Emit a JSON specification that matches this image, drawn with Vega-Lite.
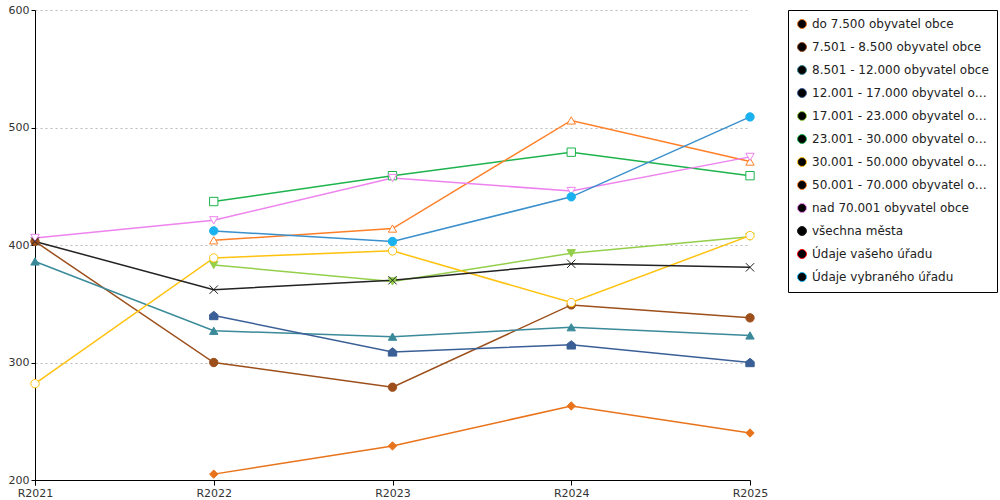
{
"$schema":"https://vega.github.io/schema/vega-lite/v6.json",
"width":715,"height":470,
"autosize":"none",
"padding":{"left":35,"top":10,"right":250,"bottom":20},
"config":{"font":"DejaVu Sans","view":{"stroke":null},"legend":{"title":null,"orient":"right","offset":35,"labelLimit":178,"labelFontSize":12,"labelColor":"#222","symbolSize":80,"rowPadding":9,"strokeColor":"#000","padding":8,"symbolStrokeWidth":1}},
"data":{"values":[
{"r":"R2022","s":"do 7.500 obyvatel obce","v":205},{"r":"R2023","s":"do 7.500 obyvatel obce","v":229},{"r":"R2024","s":"do 7.500 obyvatel obce","v":263},{"r":"R2025","s":"do 7.500 obyvatel obce","v":240},
{"r":"R2021","s":"7.501 - 8.500 obyvatel obce","v":403},{"r":"R2022","s":"7.501 - 8.500 obyvatel obce","v":300},{"r":"R2023","s":"7.501 - 8.500 obyvatel obce","v":279},{"r":"R2024","s":"7.501 - 8.500 obyvatel obce","v":349},{"r":"R2025","s":"7.501 - 8.500 obyvatel obce","v":338},
{"r":"R2021","s":"8.501 - 12.000 obyvatel obce","v":386},{"r":"R2022","s":"8.501 - 12.000 obyvatel obce","v":327},{"r":"R2023","s":"8.501 - 12.000 obyvatel obce","v":322},{"r":"R2024","s":"8.501 - 12.000 obyvatel obce","v":330},{"r":"R2025","s":"8.501 - 12.000 obyvatel obce","v":323},
{"r":"R2022","s":"12.001 - 17.000 obyvatel obce","v":340},{"r":"R2023","s":"12.001 - 17.000 obyvatel obce","v":309},{"r":"R2024","s":"12.001 - 17.000 obyvatel obce","v":315},{"r":"R2025","s":"12.001 - 17.000 obyvatel obce","v":300},
{"r":"R2022","s":"17.001 - 23.000 obyvatel obce","v":383},{"r":"R2023","s":"17.001 - 23.000 obyvatel obce","v":369},{"r":"R2024","s":"17.001 - 23.000 obyvatel obce","v":393},{"r":"R2025","s":"17.001 - 23.000 obyvatel obce","v":407},
{"r":"R2022","s":"23.001 - 30.000 obyvatel obce","v":437},{"r":"R2023","s":"23.001 - 30.000 obyvatel obce","v":459},{"r":"R2024","s":"23.001 - 30.000 obyvatel obce","v":479},{"r":"R2025","s":"23.001 - 30.000 obyvatel obce","v":459},
{"r":"R2021","s":"30.001 - 50.000 obyvatel obce","v":282},{"r":"R2022","s":"30.001 - 50.000 obyvatel obce","v":389},{"r":"R2023","s":"30.001 - 50.000 obyvatel obce","v":395},{"r":"R2024","s":"30.001 - 50.000 obyvatel obce","v":351},{"r":"R2025","s":"30.001 - 50.000 obyvatel obce","v":408},
{"r":"R2022","s":"50.001 - 70.000 obyvatel obce","v":404},{"r":"R2023","s":"50.001 - 70.000 obyvatel obce","v":414},{"r":"R2024","s":"50.001 - 70.000 obyvatel obce","v":506},{"r":"R2025","s":"50.001 - 70.000 obyvatel obce","v":471},
{"r":"R2021","s":"nad 70.001 obyvatel obce","v":406},{"r":"R2022","s":"nad 70.001 obyvatel obce","v":421},{"r":"R2023","s":"nad 70.001 obyvatel obce","v":457},{"r":"R2024","s":"nad 70.001 obyvatel obce","v":446},{"r":"R2025","s":"nad 70.001 obyvatel obce","v":475},
{"r":"R2021","s":"všechna města","v":403},{"r":"R2022","s":"všechna města","v":362},{"r":"R2023","s":"všechna města","v":370},{"r":"R2024","s":"všechna města","v":384},{"r":"R2025","s":"všechna města","v":381},
{"r":"R2022","s":"Údaje vybraného úřadu","v":412},{"r":"R2023","s":"Údaje vybraného úřadu","v":403},{"r":"R2024","s":"Údaje vybraného úřadu","v":441},{"r":"R2025","s":"Údaje vybraného úřadu","v":509}
]},
"encoding":{
"x":{"field":"r","type":"ordinal","scale":{"type":"point","padding":0,"domain":["R2021","R2022","R2023","R2024","R2025"]},"axis":{"title":null,"labelAngle":0,"labelColor":"#333","labelFontSize":11,"domainColor":"#000","tickColor":"#000","tickBand":"extent","grid":false,"labelPadding":2}},
"y":{"field":"v","type":"quantitative","scale":{"domain":[200,600]},"axis":{"title":null,"values":[200,300,400,500,600],"labelColor":"#333","labelFontSize":11,"domainColor":"#000","tickColor":"#000","gridDash":[2,3],"gridColor":"#bbb","tickSize":4}}
},
"layer":[
{"mark":{"type":"line","strokeWidth":1.5},
 "encoding":{"stroke":{"field":"s","type":"nominal","scale":{
 "domain":["do 7.500 obyvatel obce","7.501 - 8.500 obyvatel obce","8.501 - 12.000 obyvatel obce","12.001 - 17.000 obyvatel obce","17.001 - 23.000 obyvatel obce","23.001 - 30.000 obyvatel obce","30.001 - 50.000 obyvatel obce","50.001 - 70.000 obyvatel obce","nad 70.001 obyvatel obce","všechna města","Údaje vašeho úřadu","Údaje vybraného úřadu"],
 "range":["#e8731a","#9c4f1a","#3a8a9a","#3a5f96","#94cf4a","#1db34d","#ffc20e","#ff7f27","#ee82ee","#222222","#ff0000","#3a90cc"]},"legend":null}}},
{"mark":{"type":"point","size":70,"strokeWidth":1,"opacity":1},
 "encoding":{
  "color":{"field":"s","type":"nominal","scale":{"domain":["do 7.500 obyvatel obce","7.501 - 8.500 obyvatel obce","8.501 - 12.000 obyvatel obce","12.001 - 17.000 obyvatel obce","17.001 - 23.000 obyvatel obce","23.001 - 30.000 obyvatel obce","30.001 - 50.000 obyvatel obce","50.001 - 70.000 obyvatel obce","nad 70.001 obyvatel obce","všechna města","Údaje vašeho úřadu","Údaje vybraného úřadu"],"range":["#e8731a","#9c4f1a","#3a8a9a","#3a5f96","#94cf4a","#1db34d","#ffc20e","#ff7f27","#ee82ee","#222222","#ff0000","#1ab2ee"]}},
  "shape":{"field":"s","type":"nominal","scale":{"domain":["do 7.500 obyvatel obce","7.501 - 8.500 obyvatel obce","8.501 - 12.000 obyvatel obce","12.001 - 17.000 obyvatel obce","17.001 - 23.000 obyvatel obce","23.001 - 30.000 obyvatel obce","30.001 - 50.000 obyvatel obce","50.001 - 70.000 obyvatel obce","nad 70.001 obyvatel obce","všechna města","Údaje vašeho úřadu","Údaje vybraného úřadu"],"range":["diamond","circle","triangle-up","M0,-1L1,-0.2L1,1L-1,1L-1,-0.2Z","triangle-down","square","circle","triangle-up","triangle-down","M-1,-1L1,1M1,-1L-1,1","diamond","circle"]}},
  "fill":{"field":"s","type":"nominal","scale":{"domain":["do 7.500 obyvatel obce","7.501 - 8.500 obyvatel obce","8.501 - 12.000 obyvatel obce","12.001 - 17.000 obyvatel obce","17.001 - 23.000 obyvatel obce","23.001 - 30.000 obyvatel obce","30.001 - 50.000 obyvatel obce","50.001 - 70.000 obyvatel obce","nad 70.001 obyvatel obce","všechna města","Údaje vašeho úřadu","Údaje vybraného úřadu"],"range":["#e8731a","#9c4f1a","#3a8a9a","#3a5f96","#94cf4a","#ffffff","#ffffff","#ffffff","#ffffff","#222222","#ff0000","#1ab2ee"]}}
 }}
],
"resolve":{"scale":{"color":"independent"}}
}
